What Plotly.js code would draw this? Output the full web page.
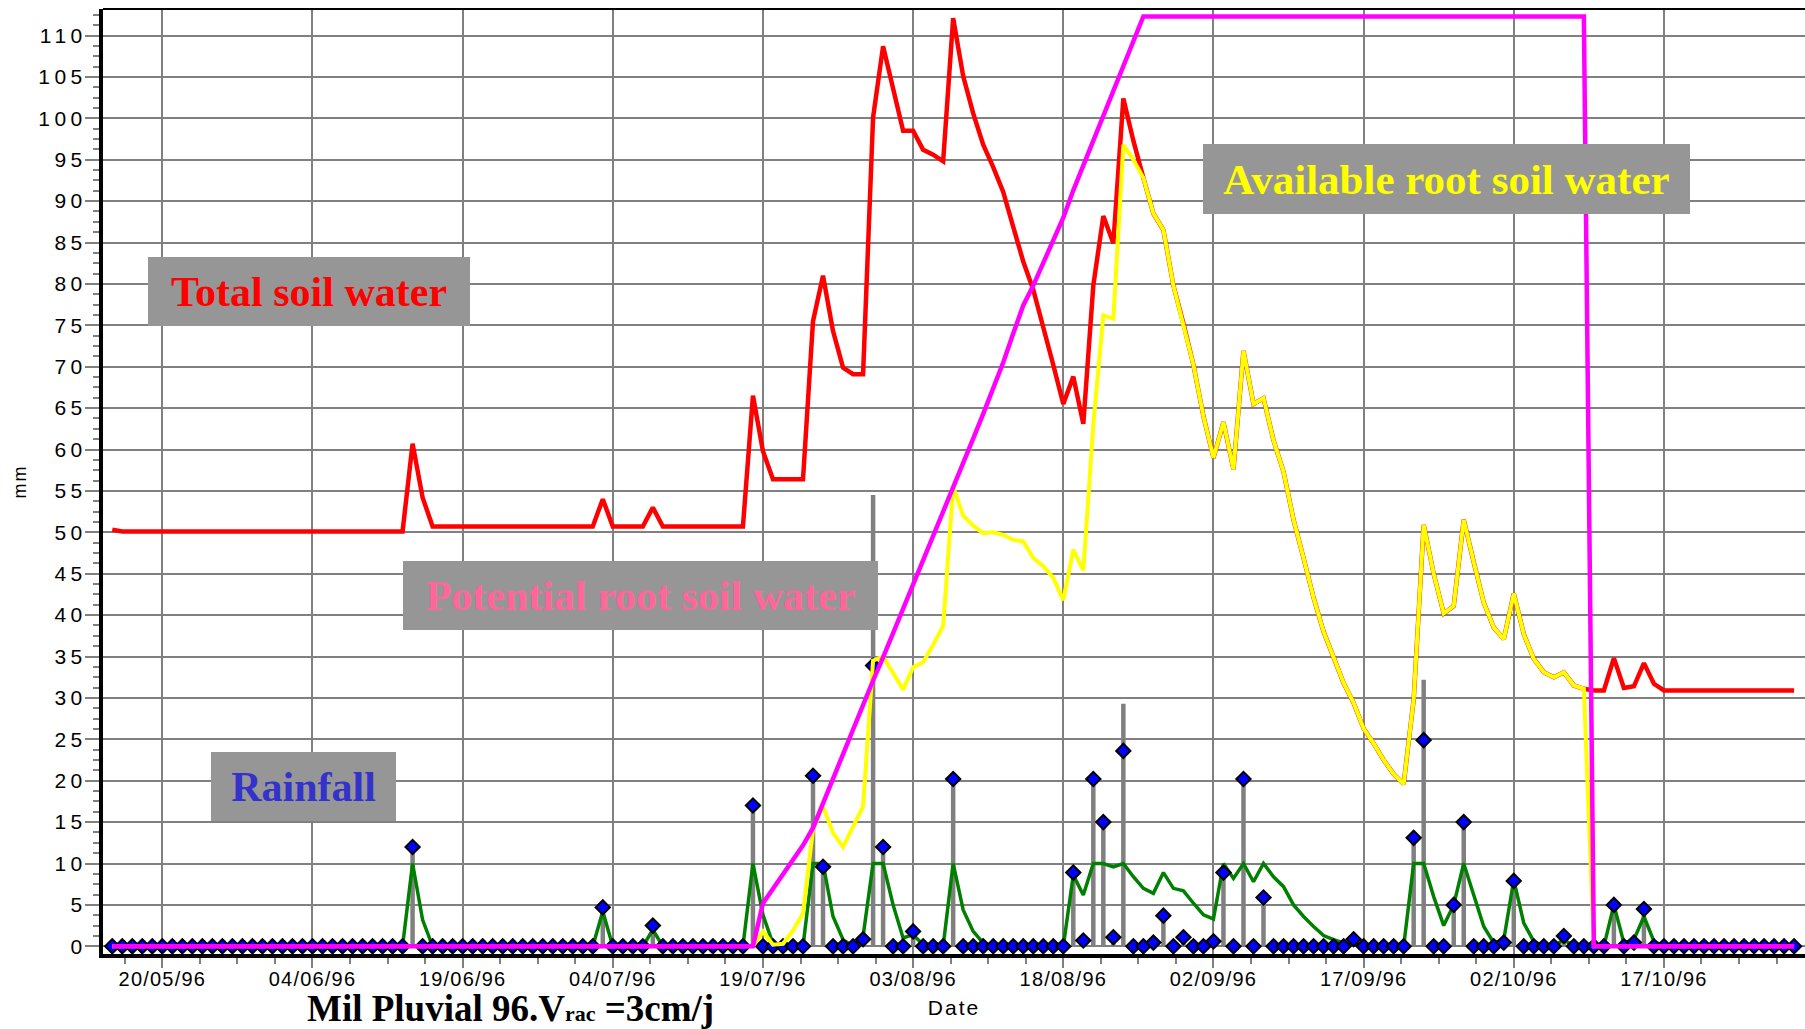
<!DOCTYPE html>
<html>
<head>
<meta charset="utf-8">
<script src="https://cdn.plot.ly/plotly-3.0.1.min.js"></script>
<style>
  html, body { margin: 0; padding: 0; background: #fff; }
  #chart { width: 1805px; height: 1029px; }
  .ytick text { letter-spacing: 4.5px; }
  .xtick text { letter-spacing: 1.2px; }
  .xtitle, .ytitle { letter-spacing: 2px; }
</style>
</head>
<body>
<div id="chart"></div>
<script>
// ---- Data (daily values, first day = 15/05/1996) ----
const startDate = '1996-05-15';

const totalSoilWater = [
  50.3,50.1,50.1,50.1,50.1,50.1,50.1,50.1,50.1,50.1,
  50.1,50.1,50.1,50.1,50.1,50.1,50.1,50.1,50.1,50.1,
  50.1,50.1,50.1,50.1,50.1,50.1,50.1,50.1,50.1,50.1,
  60.7,54.2,50.7,50.7,50.7,50.7,50.7,50.7,50.7,50.7,
  50.7,50.7,50.7,50.7,50.7,50.7,50.7,50.7,50.7,54.0,
  50.7,50.7,50.7,50.7,53.0,50.7,50.7,50.7,50.7,50.7,
  50.7,50.7,50.7,50.7,66.5,59.8,56.4,56.4,56.4,56.4,
  75.5,81.0,74.3,69.9,69.1,69.1,100.1,108.7,103.6,98.5,
  98.5,96.2,95.6,94.8,112.1,105.1,100.6,96.8,94.1,91.1,
  86.9,82.7,79.3,74.5,70.2,65.5,68.8,63.1,79.8,88.2,
  84.9,102.4,97.3,92.8,88.5,86.5,79.8,75.2,70.2,64.0,
  59.0,63.3,57.6,71.9,65.5,66.2,61.1,57.3,51.5,46.9,
  42.1,38.0,34.9,31.8,29.4,26.3,24.5,22.5,20.8,19.6,
  29.8,50.9,45.0,40.2,41.1,51.5,46.4,41.5,38.5,37.1,
  42.6,37.7,34.7,33.1,32.5,33.1,31.5,31.1,30.9,30.9,
  34.8,31.2,31.4,34.2,31.7,30.9,30.9,30.9,30.9,30.9,
  30.9,30.9,30.9,30.9,30.9,30.9,30.9,30.9,30.9
];

const availableRootSoilWater = [
  0,0,0,0,0,0,0,0,0,0,
  0,0,0,0,0,0,0,0,0,0,
  0,0,0,0,0,0,0,0,0,0,
  0,0,0,0,0,0,0,0,0,0,
  0,0,0,0,0,0,0,0,0,0,
  0,0,0,0,0,0,0,0,0,0,
  0,0,0,0,0,1.8,0.2,0.3,1.9,4.0,
  14.1,16.9,13.7,12.0,14.5,16.9,34.5,35.0,33.0,31.0,
  33.7,34.3,36.4,38.7,55.5,52.0,50.8,49.9,50.0,49.7,
  49.1,48.9,46.9,45.9,44.5,41.8,47.9,45.4,63.0,76.2,
  75.8,96.8,95.0,92.8,88.5,86.5,79.8,75.2,70.2,64.0,
  59.0,63.3,57.6,71.9,65.5,66.2,61.1,57.3,51.5,46.9,
  42.1,38.0,34.9,31.8,29.4,26.3,24.5,22.5,20.8,19.6,
  29.8,50.9,45.0,40.2,41.1,51.5,46.4,41.5,38.5,37.1,
  42.6,37.7,34.7,33.1,32.5,33.1,31.5,31.1,0,0,
  0,0,0,0,0,0,0,0,0,0,
  0,0,0,0,0,0,0,0,0
];

const potentialRootSoilWater = [
  0,0,0,0,0,0,0,0,0,0,
  0,0,0,0,0,0,0,0,0,0,
  0,0,0,0,0,0,0,0,0,0,
  0,0,0,0,0,0,0,0,0,0,
  0,0,0,0,0,0,0,0,0,0,
  0,0,0,0,0,0,0,0,0,0,
  0,0,0,0,0,5.2,7.0,8.8,10.4,12.2,
  14.3,17.3,20.1,23.1,26.1,29.1,32.1,34.9,37.8,40.8,
  43.8,46.6,49.4,52.4,55.4,58.3,61.3,64.3,67.4,70.5,
  74.0,77.4,79.8,82.5,85.1,88.0,91.3,94.3,97.6,100.4,
  103.6,106.4,109.3,112.3,112.3,112.3,112.3,112.3,112.3,112.3,
  112.3,112.3,112.3,112.3,112.3,112.3,112.3,112.3,112.3,112.3,
  112.3,112.3,112.3,112.3,112.3,112.3,112.3,112.3,112.3,112.3,
  112.3,112.3,112.3,112.3,112.3,112.3,112.3,112.3,112.3,112.3,
  112.3,112.3,112.3,112.3,112.3,112.3,112.3,112.3,0,0,
  0,0,0,0,0,0,0,0,0,0,
  0,0,0,0,0,0,0,0,0
];

const drainage = [
  0,0,0,0,0,0,0,0,0,0,
  0,0,0,0,0,0,0,0,0,0,
  0,0,0,0,0,0,0,0,0,0,
  10,3.2,0,0,0,0,0,0,0,0,
  0,0,0,0,0,0,0,0,0,4.2,
  0,0,0,0,2.0,0,0,0,0,0,
  0,0,0,0,10,3.8,0.3,0,0,0,
  10,10,3.6,0.8,0,1.2,10,10,5.0,1.0,
  1.4,0.2,0,0,10,4.4,1.8,0.4,0,0,
  0,0,0,0,0,0,8.6,6.2,10,10,
  9.6,10,8.4,7.0,6.4,8.9,7.0,6.7,5.2,3.8,
  3.3,10,8.2,10,7.8,10,8.4,7.2,5.0,3.6,
  2.4,1.3,0.8,0.4,0.3,0,0,0,0,0,
  10,10,6.0,2.5,5.0,10,6.2,2.4,0.4,0.8,
  8.0,2.8,0.6,0,0,0.8,0,0,0,0,
  5.0,0.4,0.8,3.6,0.6,0,0,0,0,0,
  0,0,0,0,0,0,0,0,0
];

const rainfall = [
  0,0,0,0,0,0,0,0,0,0,
  0,0,0,0,0,0,0,0,0,0,
  0,0,0,0,0,0,0,0,0,0,
  12.0,0,0,0,0,0,0,0,0,0,
  0,0,0,0,0,0,0,0,0,4.7,
  0,0,0,0,2.5,0,0,0,0,0,
  0,0,0,0,17.0,0,0,0,0,0,
  20.6,9.6,0,0,0,0.85,33.9,12.0,0,0,
  1.8,0,0,0,20.2,0,0,0,0,0,
  0,0,0,0,0,0,8.9,0.7,20.2,15.0,
  1.1,23.6,0,0,0.45,3.7,0,1.1,0,0,
  0.6,8.9,0,20.2,0,5.9,0,0,0,0,
  0,0,0,0,0.85,0,0,0,0,0,
  13.1,24.9,0,0,5.0,15.0,0,0,0,0.45,
  7.9,0,0,0,0,1.25,0,0,0,0,
  5.0,0,0.45,4.5,0,0,0,0,0,0,
  0,0,0,0,0,0,0,0,0
];

const rainBars = [
  0,0,0,0,0,0,0,0,0,0,
  0,0,0,0,0,0,0,0,0,0,
  0,0,0,0,0,0,0,0,0,0,
  12.0,0,0,0,0,0,0,0,0,0,
  0,0,0,0,0,0,0,0,0,4.7,
  0,0,0,0,2.5,0,0,0,0,0,
  0,0,0,0,17.0,0,0,0,0,0,
  20.6,9.6,0,0,0,0.85,54.5,12.0,0,0,
  1.8,0,0,0,20.2,0,0,0,0,0,
  0,0,0,0,0,0,8.9,0.7,20.2,15.0,
  1.1,29.3,0,0,0.45,3.7,0,1.1,0,0,
  0.6,8.9,0,20.2,0,5.9,0,0,0,0,
  0,0,0,0,0.85,0,0,0,0,0,
  13.1,32.2,0,0,5.0,15.0,0,0,0,0.45,
  7.9,0,0,0,0,1.25,0,0,0,0,
  5.0,0,0.45,4.5,0,0,0,0,0,0,
  0,0,0,0,0,0,0,0,0
];

// daily date categories
const dates = [];
(function () {
  const p = startDate.split('-').map(Number);
  for (let i = 0; i < totalSoilWater.length; i++) {
    const d = new Date(Date.UTC(p[0], p[1] - 1, p[2] + i));
    dates.push(d.toISOString().slice(0, 10));
  }
})();

const DAY = 86400000;
const sansFont = 'Liberation Sans, Arial, sans-serif';
const serifFont = 'Liberation Serif, Times New Roman, serif';

const traces = [
  { type: 'bar', x: dates, y: rainBars, width: 0.45 * DAY,
    marker: { color: '#808080', line: { width: 0 } }, name: 'Rain' },
  { type: 'scatter', mode: 'lines', x: dates, y: drainage,
    line: { color: '#008000', width: 3.5 }, name: 'Drainage' },
  { type: 'scatter', mode: 'markers', x: dates, y: rainfall,
    marker: { symbol: 'diamond', size: 11, color: '#0000FF', line: { color: '#000000', width: 2 } },
    name: 'Rainfall' },
  { type: 'scatter', mode: 'lines', x: dates, y: totalSoilWater,
    line: { color: '#FF0000', width: 4.5 }, name: 'Total soil water' },
  { type: 'scatter', mode: 'lines', x: dates, y: availableRootSoilWater,
    line: { color: '#FFFF00', width: 4 }, name: 'Available root soil water' },
  { type: 'scatter', mode: 'lines', x: dates, y: potentialRootSoilWater,
    line: { color: '#FF00FF', width: 4.5 }, name: 'Potential root soil water' }
];

const W = 1805, H = 1029;
const mL = 103, mT = 9, mR = 0, mB = 75;
const pw = W - mL - mR, ph = H - mT - mB;
const px = v => (v - mL) / pw;
const py = v => (H - mB - v) / ph;

function labelBox(text, color, cx, cy, w, h, size) {
  return {
    xref: 'paper', yref: 'paper', x: px(cx), y: py(cy),
    xanchor: 'center', yanchor: 'middle', showarrow: false,
    text: text, width: w, height: h, borderpad: 0, borderwidth: 0,
    bgcolor: '#969696', align: 'center', valign: 'middle',
    font: { family: serifFont, size: size, color: color, weight: 'bold' }
  };
}

const layout = {
  width: W, height: H,
  margin: { l: mL, r: mR, t: mT, b: mB, pad: 0 },
  paper_bgcolor: '#ffffff', plot_bgcolor: '#ffffff',
  showlegend: false,
  barmode: 'overlay',
  xaxis: {
    type: 'date',
    range: ['1996-05-14 01:50', '1996-10-31 02:10'],
    tick0: '1996-05-20', dtick: 15 * DAY,
    tickformat: '%d/%m/%y',
    ticks: 'outside', ticklen: 10, tickwidth: 2, tickcolor: '#808080',
    ticklabelstandoff: -6,
    minor: { tick0: '1996-05-20', dtick: 3.75 * DAY, ticks: 'outside', ticklen: 6, tickwidth: 2, tickcolor: '#808080', showgrid: false },
    showgrid: true, gridcolor: '#808080', gridwidth: 2,
    showline: true, linecolor: '#000000', linewidth: 4,
    zeroline: false,
    tickfont: { family: sansFont, size: 20, color: '#000000' },
    title: { text: 'Date', font: { family: sansFont, size: 21, color: '#000000' }, standoff: 12 }
  },
  yaxis: {
    range: [-0.93, 113.2],
    tick0: 0, dtick: 5,
    ticks: 'outside', ticklen: 14, tickwidth: 2, tickcolor: '#808080',
    ticklabelstandoff: -6,
    minor: { dtick: 1.25, ticks: 'outside', ticklen: 6, tickwidth: 2, tickcolor: '#808080', showgrid: false },
    showgrid: true, gridcolor: '#808080', gridwidth: 2,
    showline: true, linecolor: '#000000', linewidth: 4,
    zeroline: false,
    tickfont: { family: sansFont, size: 21, color: '#000000' },
    title: { text: 'mm', font: { family: sansFont, size: 18, color: '#000000' }, standoff: 8 }
  },
  shapes: [
    { type: 'line', xref: 'paper', yref: 'paper', x0: 0, x1: 1, y0: 1, y1: 1,
      line: { color: '#000000', width: 2 } }
  ],
  annotations: [
    labelBox('Total soil water', '#FF0000', 308.5, 291.3, 322, 69, 42),
    labelBox('Available root soil water', '#FFFF00', 1446.5, 179, 487, 70, 43),
    labelBox('Potential root soil water', '#FF6699', 640.7, 595.2, 475, 69, 42),
    labelBox('Rainfall', '#3333CC', 303.4, 786.3, 185, 69, 42),
    {
      xref: 'paper', yref: 'paper', x: px(305), y: py(1008),
      xanchor: 'left', yanchor: 'middle', showarrow: false,
      text: 'Mil Pluvial 96.V<span style="font-size:22px">rac</span> =3cm/j',
      font: { family: serifFont, size: 37, color: '#000000', weight: 'bold' }
    }
  ]
};

Plotly.newPlot('chart', traces, layout, { displayModeBar: false, staticPlot: true });
</script>
</body>
</html>
